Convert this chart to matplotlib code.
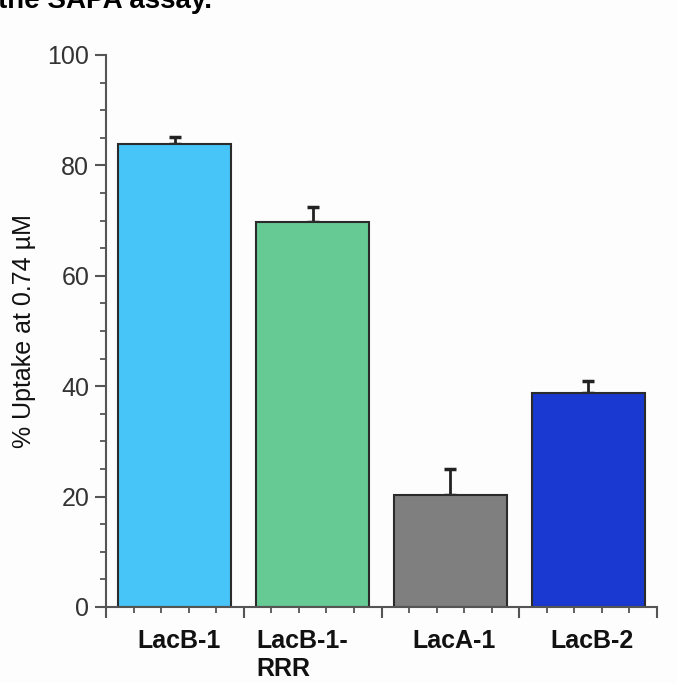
import numpy as np
import matplotlib
matplotlib.use('Agg')
import matplotlib.pyplot as plt
from matplotlib.ticker import MultipleLocator

# Data
labels = ['LacB-1', 'LacB-1-\nRRR', 'LacA-1', 'LacB-2']
uptake = [83.8, 69.8, 20.2, 38.7]
err_up = [1.4, 2.7, 4.8, 2.2]
colors = ['#47c5f8', '#66ca95', '#7f7f7f', '#1939d0']

plt.rcParams['font.family'] = ['Liberation Sans', 'DejaVu Sans']

fig = plt.figure(figsize=(6.77, 6.83), dpi=100)
fig.patch.set_facecolor('#fdfdfd')
ax = fig.add_axes([106 / 677, 1 - 607 / 683, (657 - 106) / 677, (607 - 55) / 683])
ax.set_facecolor('#fdfdfd')

bar_w = 0.82
x = np.arange(len(labels)) + 0.5
ax.bar(x, uptake, width=bar_w, color=colors, edgecolor='#2b2b2b', linewidth=1.5, zorder=2)
ax.errorbar(x, uptake, yerr=[np.zeros(len(err_up)), err_up], fmt='none',
            ecolor='#222222', elinewidth=2, capsize=4, capthick=2.5, zorder=1)

ax.set_xlim(0, 4)
ax.set_ylim(0, 100)
ax.spines['top'].set_visible(False)
ax.spines['right'].set_visible(False)
for s in ['left', 'bottom']:
    ax.spines[s].set_color('#555555')
    ax.spines[s].set_linewidth(1.5)

ax.yaxis.set_major_locator(MultipleLocator(20))
ax.yaxis.set_minor_locator(MultipleLocator(5))
ax.xaxis.set_major_locator(MultipleLocator(1))
ax.xaxis.set_minor_locator(MultipleLocator(0.2))
ax.set_xticklabels([])
ax.tick_params(axis='both', which='major', length=8, width=1.5, color='#555555',
               direction='out', labelsize=18, labelcolor='#333333')
ax.tick_params(axis='both', which='minor', length=4, width=1.3, color='#555555', direction='out')
ax.tick_params(axis='y', pad=4)

# category labels, two-line one is left-aligned under its bar
for xi, lab in zip(x, labels):
    if '\n' in lab:
        ax.text(xi - bar_w / 2, -0.04, lab, transform=ax.get_xaxis_transform(), ha='left',
                va='top', fontsize=18, fontweight='bold', color='#111111', linespacing=1.2)
    else:
        ax.text(xi + 0.03, -0.04, lab, transform=ax.get_xaxis_transform(), ha='center',
                va='top', fontsize=18, fontweight='bold', color='#111111')

ax.set_ylabel('% Uptake at 0.74 µM', fontsize=18, color='#111111', labelpad=8)

fig.text(-0.003, 1 - 8 / 683, 'the SAPA assay.', fontsize=20, fontweight='bold',
         va='baseline', ha='left', color='#000000')

fig.savefig('out.png', dpi=100, facecolor=fig.get_facecolor())
